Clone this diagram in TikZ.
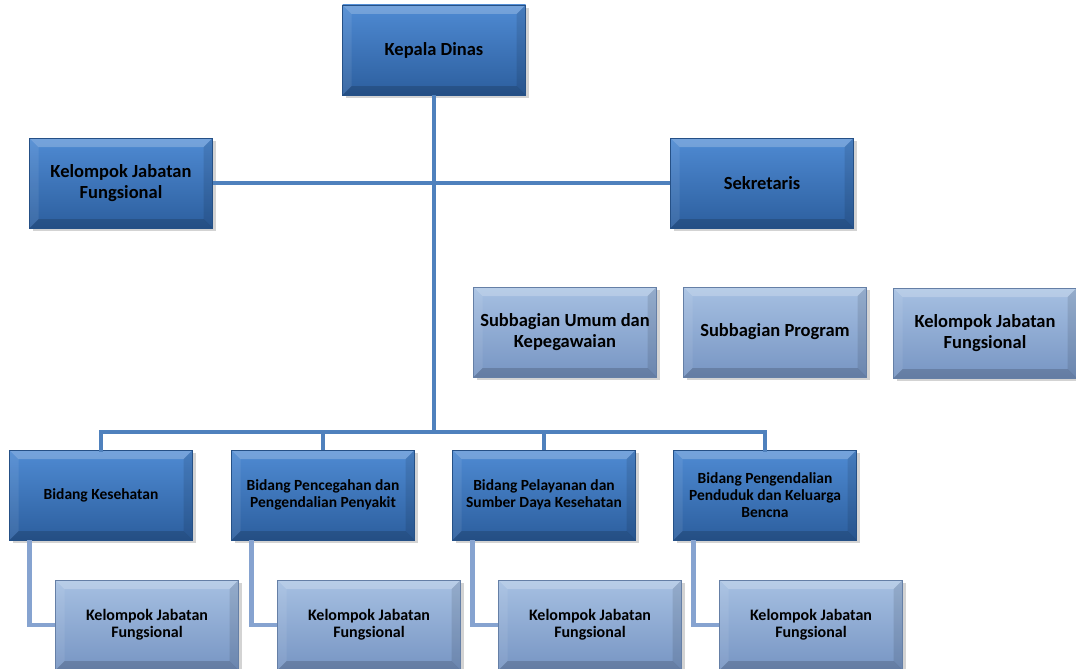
\documentclass[tikz,border=0pt]{standalone}
\usepackage{fontspec}
\setmainfont{Carlito}
\usetikzlibrary{shadows,positioning,calc}
\definecolor{boxtop}{HTML}{4F8BD3}
\definecolor{boxbot}{HTML}{2C5E9E}
\definecolor{lighttop}{HTML}{A6C0E2}
\definecolor{lightbot}{HTML}{7795C3}
\definecolor{linkblue}{HTML}{4F81BD}
\definecolor{sublink}{HTML}{86A3D0}
\tikzset{box/.style={
            draw=boxbot!85!black,
            line width=0.4pt,
            top color=boxtop,
            bottom color=boxbot,
            minimum width=183,
            minimum height=90,
            inner sep=0pt,
            align=center,
            font=\bfseries\fontsize{18.5}{21}\selectfont,
            drop shadow={shadow xshift=3pt,shadow yshift=-3pt,opacity=0.35},
            path picture={
                \fill[white,opacity=0.22] (path picture bounding box.north west) -- (path picture bounding box.north east)
                    -- ([xshift=-9pt,yshift=-9pt]path picture bounding box.north east) -- ([xshift=9pt,yshift=-9pt]path picture bounding box.north west) -- cycle;
                \fill[black,opacity=0.16] (path picture bounding box.south west) -- (path picture bounding box.south east)
                    -- ([xshift=-9pt,yshift=9pt]path picture bounding box.south east) -- ([xshift=9pt,yshift=9pt]path picture bounding box.south west) -- cycle;
                \fill[black,opacity=0.1] (path picture bounding box.north east) -- (path picture bounding box.south east)
                    -- ([xshift=-9pt,yshift=9pt]path picture bounding box.south east) -- ([xshift=-9pt,yshift=-9pt]path picture bounding box.north east) -- cycle;
                \fill[white,opacity=0.08] (path picture bounding box.north west) -- (path picture bounding box.south west)
                    -- ([xshift=9pt,yshift=9pt]path picture bounding box.south west) -- ([xshift=9pt,yshift=-9pt]path picture bounding box.north west) -- cycle;
            }
        },
        lightbox/.style={
            box,
            draw=lightbot!85!black,
            top color=lighttop,
            bottom color=lightbot
        },
        bidang/.style={
            box,
            font=\bfseries\fontsize{15.5}{17}\selectfont
        },
        subbox/.style={
            lightbox,
            font=\bfseries\fontsize{16}{17}\selectfont
        },
        link/.style={
            line width=4.5pt,
            linkblue
        },
        sublinkline/.style={
            line width=4.5pt,
            sublink
        }
    }
\begin{document}
\begin{tikzpicture}[x=1pt,y=-1pt]
        \useasboundingbox (0,0) rectangle (1076,669);

        \node[box] (kepala) at (434,50) {Kepala Dinas};
        \node[box] (kjfleft) at (121,183) {Kelompok Jabatan\\Fungsional};
        \node[box] (sekretaris) at (762,183) {Sekretaris};

        \node[lightbox] (umum) at (565,332) {Subbagian Umum dan\\Kepegawaian};
        \node[lightbox] (program) at (775,332) {Subbagian Program};
        \node[lightbox] (kjfright) at (985,333) {Kelompok Jabatan\\Fungsional};

        \node[bidang] (b1) at (101,495) {Bidang Kesehatan};
        \node[bidang] (b2) at (323,495) {Bidang Pencegahan dan\\Pengendalian Penyakit};
        \node[bidang] (b3) at (544,495) {Bidang Pelayanan dan\\Sumber Daya Kesehatan};
        \node[bidang] (b4) at (765,495) {Bidang Pengendalian\\Penduduk dan Keluarga\\Bencna};

        \foreach \i/\x in {1/147,2/369,3/590,4/811}
            \node[subbox] (k\i) at (\x,625) {Kelompok Jabatan\\Fungsional};

        \coordinate (bus) at (434,432);
        \draw[link] (kjfleft.east) -- (sekretaris.west);
        \draw[link] (kepala.south) -- (bus);
        \draw[link,line cap=rect] (b1.north) -- (b1.north |- bus) -- (b4.north |- bus) -- (b4.north);
        \foreach \i in {2,3}
            \draw[link] (b\i.north |- bus) -- (b\i.north);

        \foreach \i in {1,2,3,4}
            \draw[sublinkline] ([xshift=20pt]b\i.south west) |- (k\i.west);

    \end{tikzpicture}
\end{document}
